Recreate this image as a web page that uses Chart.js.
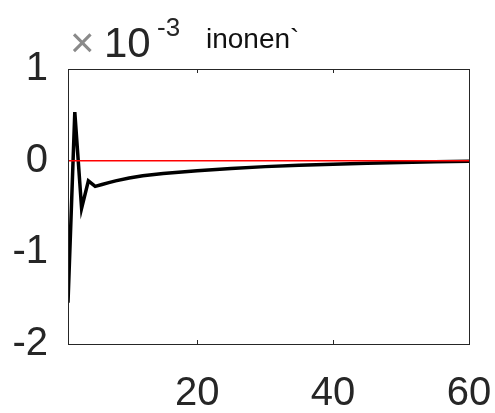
<!DOCTYPE html>
<html>
<head>
<meta charset="utf-8">
<script src="https://cdn.jsdelivr.net/npm/chart.js@4.4.1/dist/chart.umd.min.js"></script>
<style>
  html, body { margin: 0; padding: 0; background: #fff; }
  #wrap { width: 495px; height: 413px; }
</style>
</head>
<body>
<div id="wrap"><canvas id="plot"></canvas></div>
<script>
// Series values (units of 1e-3)
const xValues = [1, 2, 3, 4, 5, 6, 7, 8, 10, 12, 15, 20, 25, 30, 35, 40, 45, 50, 55, 60];
const yValues = [-1.55, 0.53, -0.52, -0.22, -0.28, -0.26, -0.24, -0.22, -0.19, -0.165,
                 -0.14, -0.11, -0.085, -0.065, -0.05, -0.038, -0.028, -0.02, -0.012, -0.005];

// Reference zero line
const refX = [1, 60];
const refY = [0, 0];

// Tick labels
const xTicks = [20, 40, 60];
const yTicks = [-2, -1, 0, 1];

const axisColor = "#262626";
const fontFamily = "'Liberation Sans', Arial, Helvetica, sans-serif";

// Draws the box around the axes and the inward tick marks, plus the exponent label
const framePlugin = {
    id: "frame",
    afterDraw(chart) {
        const ctx = chart.ctx;
        const area = chart.chartArea;
        const xs = chart.scales.x;
        ctx.save();
        ctx.strokeStyle = axisColor;
        ctx.lineWidth = 1;
        ctx.strokeRect(area.left + 0.5, area.top + 0.5, area.right - area.left, area.bottom - area.top);
        ctx.beginPath();
        xTicks.forEach((v) => {
            const px = Math.round(xs.getPixelForValue(v)) + 0.5;
            ctx.moveTo(px, area.bottom);
            ctx.lineTo(px, area.bottom - 4);
            ctx.moveTo(px, area.top);
            ctx.lineTo(px, area.top + 4);
        });
        ctx.stroke();

        // exponent label above the axes
        ctx.textBaseline = "alphabetic";
        ctx.fillStyle = "#8a8a8a";
        ctx.font = "42px " + fontFamily;
        ctx.fillText("\u00d7", 70, 57);
        ctx.fillStyle = axisColor;
        ctx.font = "42px " + fontFamily;
        ctx.fillText("10", 104, 57);
        ctx.font = "26px " + fontFamily;
        ctx.fillText("-3", 157, 36);
        ctx.fillStyle = "#111";
        ctx.font = "28px " + fontFamily;
        ctx.fillText("inonen`", 206, 48);
        ctx.restore();
    },
};

const chart = new Chart(document.getElementById("plot").getContext("2d"), {
    type: "line",
    data: {
        datasets: [
            {
                label: "zero",
                data: refX.map((x, i) => ({ x: x, y: refY[i] })),
                borderColor: "#ff0000",
                borderWidth: 1.5,
                pointRadius: 0,
                order: 0,
            },
            {
                label: "signal",
                data: xValues.map((x, i) => ({ x: x, y: yValues[i] })),
                borderColor: "#000000",
                borderWidth: 3.5,
                pointRadius: 0,
                tension: 0,
                order: 1,
            },
        ],
    },
    options: {
        responsive: true,
        maintainAspectRatio: false,
        animation: false,
        layout: { padding: { left: 0, top: 69, right: 26, bottom: 0 } },
        plugins: {
            legend: { display: false },
            tooltip: { enabled: false },
        },
        scales: {
            x: {
                type: "linear",
                min: 1,
                max: 60,
                grid: { display: false, drawTicks: false },
                border: { display: false },
                afterBuildTicks: (scale) => {
                    scale.ticks = xTicks.map((v) => ({ value: v }));
                },
                afterFit: (scale) => {
                    scale.height = 69;
                    scale.paddingLeft = 0;
                    scale.paddingRight = 0;
                },
                ticks: {
                    color: axisColor,
                    padding: 26,
                    maxRotation: 0,
                    autoSkip: false,
                    font: { family: fontFamily, size: 40 },
                },
            },
            y: {
                type: "linear",
                min: -2,
                max: 1,
                grid: { display: false, drawTicks: false },
                border: { display: false },
                afterBuildTicks: (scale) => {
                    scale.ticks = yTicks.map((v) => ({ value: v }));
                },
                afterFit: (scale) => {
                    scale.width = 68;
                    scale.paddingTop = 0;
                    scale.paddingBottom = 0;
                },
                ticks: {
                    color: axisColor,
                    padding: 20,
                    font: { family: fontFamily, size: 40 },
                },
            },
        },
    },
    plugins: [framePlugin],
});
</script>
</body>
</html>
